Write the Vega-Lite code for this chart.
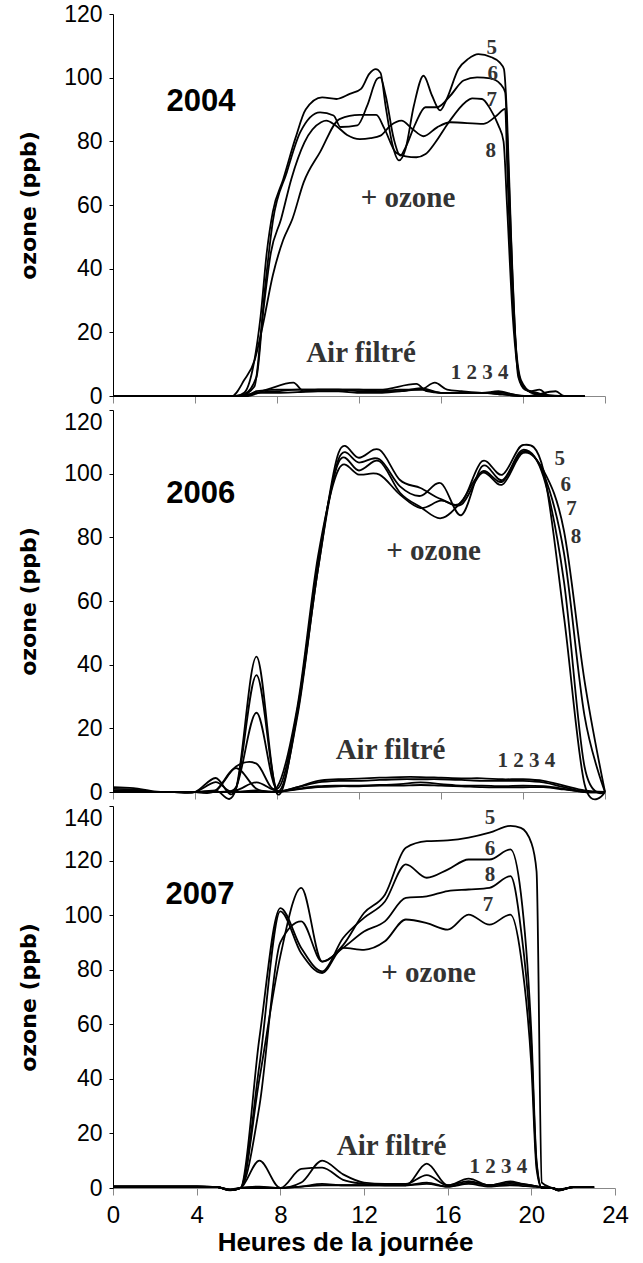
{
"$schema": "https://vega.github.io/schema/vega-lite/v6.json",
"padding": {"left": 17, "top": 3, "right": 5, "bottom": 5},
"background": "white",
"bounds": "flush",
"spacing": 14,
"config": {
  "view": {"stroke": null},
  "axis": {"grid": false, "labelFont": "Liberation Sans", "labelFontSize": 23, "labelColor": "black", "domainColor": "black", "tickColor": "black", "domainWidth": 1, "tickWidth": 1, "labelFlush": false}
},
"datasets": {
  "p2004": [
    {"s":5,"h":0,"v":0},{"s":5,"h":3,"v":0},{"s":5,"h":6,"v":0},{"s":5,"h":6.4,"v":1},{"s":5,"h":6.8,"v":8},{"s":5,"h":7.2,"v":25},{"s":5,"h":7.5,"v":45},{"s":5,"h":7.8,"v":58},{"s":5,"h":8.3,"v":68},{"s":5,"h":8.9,"v":81},{"s":5,"h":9.4,"v":90},{"s":5,"h":10.2,"v":93.8},{"s":5,"h":10.9,"v":93.3},{"s":5,"h":11.55,"v":94.9},{"s":5,"h":12.1,"v":96.5},{"s":5,"h":12.5,"v":101.2},{"s":5,"h":12.82,"v":102.7},{"s":5,"h":13.05,"v":101.5},{"s":5,"h":13.3,"v":91},{"s":5,"h":13.63,"v":79},{"s":5,"h":13.95,"v":74},{"s":5,"h":14.27,"v":77.6},{"s":5,"h":14.67,"v":91},{"s":5,"h":15.15,"v":100.6},{"s":5,"h":15.56,"v":94.4},{"s":5,"h":15.96,"v":89.7},{"s":5,"h":16.28,"v":93.3},{"s":5,"h":16.85,"v":102.7},{"s":5,"h":17.33,"v":105.9},{"s":5,"h":17.82,"v":107.4},{"s":5,"h":18.46,"v":106.4},{"s":5,"h":18.86,"v":104.8},{"s":5,"h":19.07,"v":102.7},{"s":5,"h":19.22,"v":88},{"s":5,"h":19.42,"v":50},{"s":5,"h":19.72,"v":10},{"s":5,"h":20.0,"v":3},{"s":5,"h":20.5,"v":1},{"s":5,"h":21,"v":0.5},{"s":5,"h":22,"v":0},{"s":5,"h":23,"v":0},
    {"s":6,"h":0,"v":0},{"s":6,"h":3,"v":0},{"s":6,"h":6,"v":0},{"s":6,"h":6.4,"v":0.5},{"s":6,"h":7.0,"v":6},{"s":6,"h":7.4,"v":33},{"s":6,"h":7.8,"v":55},{"s":6,"h":8.48,"v":70.3},{"s":6,"h":9.13,"v":82.8},{"s":6,"h":10.1,"v":89.1},{"s":6,"h":10.76,"v":88.1},{"s":6,"h":11.1,"v":84.5},{"s":6,"h":11.92,"v":85},{"s":6,"h":12.4,"v":91.2},{"s":6,"h":12.88,"v":99.6},{"s":6,"h":13.04,"v":100.1},{"s":6,"h":13.3,"v":94.4},{"s":6,"h":13.7,"v":80.7},{"s":6,"h":14.02,"v":75.5},{"s":6,"h":14.27,"v":78.1},{"s":6,"h":14.75,"v":85.5},{"s":6,"h":15.24,"v":90.7},{"s":6,"h":15.81,"v":90.7},{"s":6,"h":16.46,"v":94.4},{"s":6,"h":17.1,"v":99.1},{"s":6,"h":17.76,"v":100.1},{"s":6,"h":18.41,"v":99.8},{"s":6,"h":18.9,"v":98},{"s":6,"h":19.13,"v":95.4},{"s":6,"h":19.27,"v":75},{"s":6,"h":19.47,"v":40},{"s":6,"h":19.77,"v":6},{"s":6,"h":20.1,"v":2},{"s":6,"h":20.7,"v":1},{"s":6,"h":21.2,"v":0},{"s":6,"h":22,"v":0},{"s":6,"h":23,"v":0},
    {"s":7,"h":0,"v":0},{"s":7,"h":3,"v":0},{"s":7,"h":5.8,"v":0},{"s":7,"h":6.4,"v":5},{"s":7,"h":6.92,"v":11.5},{"s":7,"h":7.3,"v":22},{"s":7,"h":7.8,"v":38},{"s":7,"h":8.3,"v":49},{"s":7,"h":8.75,"v":55.6},{"s":7,"h":9.3,"v":67.1},{"s":7,"h":10.1,"v":76.6},{"s":7,"h":11.05,"v":87},{"s":7,"h":12.03,"v":88.3},{"s":7,"h":12.84,"v":88.3},{"s":7,"h":13.24,"v":84},{"s":7,"h":13.8,"v":76.5},{"s":7,"h":14.28,"v":75.3},{"s":7,"h":14.8,"v":75},{"s":7,"h":15.25,"v":76},{"s":7,"h":15.73,"v":79.7},{"s":7,"h":16.38,"v":86},{"s":7,"h":17.19,"v":92.3},{"s":7,"h":17.52,"v":93.5},{"s":7,"h":18.0,"v":93.3},{"s":7,"h":18.4,"v":90.2},{"s":7,"h":18.8,"v":85},{"s":7,"h":19.05,"v":80},{"s":7,"h":19.22,"v":60},{"s":7,"h":19.5,"v":25},{"s":7,"h":19.9,"v":4},{"s":7,"h":20.4,"v":1},{"s":7,"h":21,"v":0},{"s":7,"h":22,"v":0},{"s":7,"h":23,"v":0},
    {"s":8,"h":0,"v":0},{"s":8,"h":3,"v":0},{"s":8,"h":6.2,"v":0},{"s":8,"h":6.9,"v":3},{"s":8,"h":7.3,"v":25},{"s":8,"h":7.7,"v":45},{"s":8,"h":8.2,"v":55.6},{"s":8,"h":8.7,"v":68.2},{"s":8,"h":9.34,"v":79.7},{"s":8,"h":10.15,"v":86},{"s":8,"h":10.4,"v":86.5},{"s":8,"h":10.86,"v":85},{"s":8,"h":11.42,"v":82},{"s":8,"h":12.04,"v":80.7},{"s":8,"h":12.56,"v":81},{"s":8,"h":13.05,"v":81.8},{"s":8,"h":13.54,"v":85},{"s":8,"h":14.07,"v":86.5},{"s":8,"h":14.6,"v":83.9},{"s":8,"h":15.15,"v":81.6},{"s":8,"h":15.81,"v":84.4},{"s":8,"h":16.46,"v":86},{"s":8,"h":18.08,"v":85.5},{"s":8,"h":18.72,"v":88.1},{"s":8,"h":19.13,"v":90.2},{"s":8,"h":19.24,"v":70},{"s":8,"h":19.5,"v":30},{"s":8,"h":19.9,"v":5},{"s":8,"h":20.4,"v":1.5},{"s":8,"h":20.8,"v":2},{"s":8,"h":21.3,"v":0},{"s":8,"h":22,"v":0},{"s":8,"h":23,"v":0},
    {"s":1,"h":0,"v":0},{"s":1,"h":6,"v":0},{"s":1,"h":7,"v":1},{"s":1,"h":8,"v":1.5},{"s":1,"h":9,"v":2},{"s":1,"h":10,"v":2},{"s":1,"h":11,"v":2},{"s":1,"h":12,"v":1.5},{"s":1,"h":13,"v":1.5},{"s":1,"h":14,"v":1.5},{"s":1,"h":15,"v":2.5},{"s":1,"h":16,"v":1},{"s":1,"h":17,"v":1},{"s":1,"h":18,"v":1},{"s":1,"h":19,"v":0.5},{"s":1,"h":20,"v":0},{"s":1,"h":23,"v":0},
    {"s":2,"h":0,"v":0},{"s":2,"h":6.5,"v":0},{"s":2,"h":7.5,"v":2},{"s":2,"h":8.8,"v":4.2},{"s":2,"h":9.3,"v":1.5},{"s":2,"h":10,"v":2},{"s":2,"h":11,"v":2},{"s":2,"h":12,"v":2},{"s":2,"h":13,"v":2},{"s":2,"h":14.8,"v":3.8},{"s":2,"h":15.3,"v":1.5},{"s":2,"h":16,"v":1},{"s":2,"h":17,"v":1},{"s":2,"h":18,"v":1},{"s":2,"h":18.8,"v":1.5},{"s":2,"h":19.5,"v":0.5},{"s":2,"h":20.2,"v":0},{"s":2,"h":21.6,"v":1.5},{"s":2,"h":22,"v":0},{"s":2,"h":23,"v":0},
    {"s":3,"h":0,"v":0},{"s":3,"h":6.5,"v":0},{"s":3,"h":7,"v":1.5},{"s":3,"h":8,"v":2},{"s":3,"h":9,"v":2},{"s":3,"h":10,"v":2},{"s":3,"h":11,"v":2},{"s":3,"h":12,"v":2},{"s":3,"h":13,"v":1.5},{"s":3,"h":14,"v":2},{"s":3,"h":15,"v":2},{"s":3,"h":15.7,"v":4.2},{"s":3,"h":16.3,"v":2},{"s":3,"h":17,"v":1.5},{"s":3,"h":18,"v":1},{"s":3,"h":19,"v":1},{"s":3,"h":20,"v":0},{"s":3,"h":23,"v":0},
    {"s":4,"h":0,"v":0},{"s":4,"h":6.5,"v":0},{"s":4,"h":7,"v":1},{"s":4,"h":8,"v":1},{"s":4,"h":9,"v":1.2},{"s":4,"h":10,"v":1.5},{"s":4,"h":11,"v":1.5},{"s":4,"h":12,"v":1},{"s":4,"h":13,"v":1},{"s":4,"h":14,"v":1.5},{"s":4,"h":15,"v":2},{"s":4,"h":16,"v":1},{"s":4,"h":17,"v":1},{"s":4,"h":18,"v":1},{"s":4,"h":19,"v":0.5},{"s":4,"h":20,"v":0},{"s":4,"h":23,"v":0}
  ],
  "p2006": [
    {"h":0,"s1":0.3,"s2":0.2,"s3":0,"s4":0,"s5":1.5,"s6":1,"s7":0.5,"s8":0.3},
    {"h":1,"s1":0.3,"s2":0.2,"s3":0,"s4":0,"s5":1.2,"s6":0.8,"s7":0.5,"s8":0.2},
    {"h":2,"s1":0,"s2":0,"s3":0,"s4":0,"s5":0.2,"s6":0,"s7":0,"s8":0},
    {"h":3,"s1":0,"s2":0,"s3":0,"s4":0,"s5":0,"s6":0,"s7":0,"s8":0},
    {"h":4,"s1":0,"s2":0,"s3":0,"s4":0,"s5":0,"s6":0,"s7":0,"s8":0},
    {"h":5,"s1":0.5,"s2":0,"s3":0,"s4":0,"s5":0.5,"s6":4.4,"s7":3.1,"s8":0.3},
    {"h":6,"s1":7.5,"s2":0.5,"s3":0,"s4":0,"s5":1,"s6":1,"s7":1.5,"s8":8},
    {"h":7,"s1":1,"s2":3,"s3":0.5,"s4":0,"s5":42.5,"s6":36.7,"s7":24.9,"s8":8.9},
    {"h":8,"s1":0,"s2":0.3,"s3":0,"s4":0,"s5":-0.5,"s6":0.5,"s7":1,"s8":1.5},
    {"h":9,"s1":1.5,"s2":1.5,"s3":1,"s4":0.8,"s5":25,"s6":24,"s7":26,"s8":27},
    {"h":10,"s1":3.5,"s2":3,"s3":1.8,"s4":1.5,"s5":70,"s6":70,"s7":72,"s8":74},
    {"h":11,"s1":4,"s2":3.5,"s3":2,"s4":1.8,"s5":106.5,"s6":104.5,"s7":103.5,"s8":101.3},
    {"h":12,"s1":4.2,"s2":3.5,"s3":2,"s4":1.8,"s5":105,"s6":103.5,"s7":101,"s8":99.7},
    {"h":13,"s1":4.5,"s2":3.8,"s3":2.2,"s4":2,"s5":107.5,"s6":104.5,"s7":103.9,"s8":99.7},
    {"h":14,"s1":4.7,"s2":4,"s3":2.5,"s4":2,"s5":98,"s6":96,"s7":94,"s8":93.4},
    {"h":15,"s1":4.7,"s2":4,"s3":3,"s4":2.2,"s5":95.5,"s6":93,"s7":89.5,"s8":89.2},
    {"h":16,"s1":4.5,"s2":4,"s3":2.5,"s4":2,"s5":92,"s6":97,"s7":86,"s8":91.5},
    {"h":17,"s1":4.3,"s2":3.8,"s3":2,"s4":1.8,"s5":91,"s6":87,"s7":91.3,"s8":90.3},
    {"h":18,"s1":4.3,"s2":3.5,"s3":2,"s4":1.5,"s5":103.9,"s6":102.3,"s7":100.7,"s8":100.2},
    {"h":19,"s1":4,"s2":3.5,"s3":1.8,"s4":1.5,"s5":99.7,"s6":98,"s7":97.5,"s8":96.6},
    {"h":20,"s1":4,"s2":3.5,"s3":2,"s4":1.5,"s5":109,"s6":107.5,"s7":107,"s8":106.5},
    {"h":21,"s1":3.5,"s2":3,"s3":1.8,"s4":1.5,"s5":101,"s6":99,"s7":100,"s8":101},
    {"h":22,"s1":2,"s2":1.5,"s3":1,"s4":0.8,"s5":55,"s6":66,"s7":75,"s8":82},
    {"h":23,"s1":0.5,"s2":0,"s3":0,"s4":0,"s5":2.5,"s6":8,"s7":24,"s8":35},
    {"h":24,"s1":0,"s2":0,"s3":0,"s4":0,"s5":0,"s6":0,"s7":0,"s8":0}
  ],
  "p2007": [
    {"h":0,"s1":0.5,"s2":0.4,"s3":0.6,"s4":0.3,"s5":0.5,"s6":0.6,"s7":0.4,"s8":0.5},
    {"h":1,"s1":0.5,"s2":0.4,"s3":0.6,"s4":0.3,"s5":0.5,"s6":0.6,"s7":0.4,"s8":0.5},
    {"h":2,"s1":0.5,"s2":0.4,"s3":0.6,"s4":0.3,"s5":0.5,"s6":0.6,"s7":0.4,"s8":0.5},
    {"h":3,"s1":0.5,"s2":0.4,"s3":0.6,"s4":0.3,"s5":0.5,"s6":0.6,"s7":0.4,"s8":0.5},
    {"h":4,"s1":0.5,"s2":0.4,"s3":0.6,"s4":0.3,"s5":0.5,"s6":0.6,"s7":0.4,"s8":0.5},
    {"h":5,"s1":0.3,"s2":0.3,"s3":0.3,"s4":0.3,"s5":0.3,"s6":0.3,"s7":0.3,"s8":0.3},
    {"h":5.6,"s1":-0.8,"s2":-0.8,"s3":-0.6,"s4":-0.5,"s5":-0.8,"s6":-0.9,"s7":-0.7,"s8":-0.8},
    {"h":6.1,"s1":0,"s2":0,"s3":0,"s4":0,"s5":0,"s6":0,"s7":0,"s8":0},
    {"h":7,"s1":10,"s2":0.5,"s3":0.3,"s4":0,"s5":40,"s6":55,"s7":45,"s8":30},
    {"h":8,"s1":0,"s2":0,"s3":0,"s4":0,"s5":85,"s6":102.6,"s7":101.4,"s8":90},
    {"h":9,"s1":0.5,"s2":7,"s3":2,"s4":0.5,"s5":110,"s6":88,"s7":86,"s8":97.7},
    {"h":10,"s1":1.5,"s2":7.5,"s3":10,"s4":1,"s5":83,"s6":79.4,"s7":78.8,"s8":83},
    {"h":11,"s1":1,"s2":3,"s3":5,"s4":1,"s5":89,"s6":91.6,"s7":88,"s8":88},
    {"h":12,"s1":1,"s2":1.5,"s3":2,"s4":1,"s5":100.8,"s6":99,"s7":87.3,"s8":94},
    {"h":13,"s1":1,"s2":1,"s3":1.5,"s4":1,"s5":107.5,"s6":105,"s7":90.4,"s8":97.7},
    {"h":14,"s1":1,"s2":1,"s3":1.5,"s4":1,"s5":124.7,"s6":118.6,"s7":98.4,"s8":106.3},
    {"h":15,"s1":2,"s2":8.9,"s3":4.7,"s4":1.5,"s5":127.1,"s6":113.7,"s7":97.1,"s8":106.9},
    {"h":16,"s1":0.5,"s2":1,"s3":1,"s4":0.5,"s5":127.4,"s6":116.7,"s7":94.7,"s8":108.8},
    {"h":17,"s1":2,"s2":3.4,"s3":2.5,"s4":1.5,"s5":128.4,"s6":120.4,"s7":100.2,"s8":109.4},
    {"h":18,"s1":1,"s2":1,"s3":1,"s4":0.5,"s5":130.2,"s6":120.4,"s7":96.5,"s8":110},
    {"h":19,"s1":1.5,"s2":2.4,"s3":2,"s4":1,"s5":132.7,"s6":124.1,"s7":100.2,"s8":114.3},
    {"h":19.5,"s1":1.2,"s2":1.6,"s3":1.5,"s4":0.8,"s5":132,"s6":108,"s7":85,"s8":95},
    {"h":20,"s1":1,"s2":1,"s3":1,"s4":0.5,"s5":126.5,"s6":57,"s7":45,"s8":52},
    {"h":20.25,"s1":0.6,"s2":0.6,"s3":0.6,"s4":0.4,"s5":116,"s6":10,"s7":7,"s8":9},
    {"h":20.5,"s1":0.3,"s2":0.3,"s3":0.3,"s4":0.3,"s5":2,"s6":0,"s7":0,"s8":0},
    {"h":21,"s1":0,"s2":0,"s3":0,"s4":0,"s5":0,"s6":0,"s7":0,"s8":0},
    {"h":21.3,"s1":-0.8,"s2":-0.8,"s3":-0.5,"s4":-0.5,"s5":-1,"s6":-0.8,"s7":-0.8,"s8":-0.8},
    {"h":22,"s1":0.3,"s2":0.3,"s3":0.3,"s4":0.3,"s5":0.3,"s6":0.3,"s7":0.3,"s8":0.3},
    {"h":23,"s1":0.3,"s2":0.3,"s3":0.3,"s4":0.3,"s5":0.3,"s6":0.3,"s7":0.3,"s8":0.3}
  ],
  "t2004": [
    {"k":"year","t":"2004","h":4.29,"v":89.5},
    {"k":"lab","t":"+ ozone","h":14.39,"v":59.4},
    {"k":"lab","t":"Air filtré","h":12.1,"v":10.7},
    {"k":"num","t":"1 2 3 4","h":17.88,"v":5.3},
    {"k":"num","t":"5","h":18.48,"v":107.4},
    {"k":"num","t":"6","h":18.53,"v":99.3},
    {"k":"num","t":"7","h":18.48,"v":91.1},
    {"k":"num","t":"8","h":18.43,"v":75.1}
  ],
  "t2006": [
    {"k":"year","t":"2006","h":4.28,"v":90.8},
    {"k":"lab","t":"+ ozone","h":15.64,"v":73},
    {"k":"lab","t":"Air filtré","h":13.54,"v":10.3},
    {"k":"num","t":"1 2 3 4","h":20.17,"v":7.8},
    {"k":"num","t":"5","h":21.79,"v":102.7},
    {"k":"num","t":"6","h":22.09,"v":94.6},
    {"k":"num","t":"7","h":22.36,"v":87},
    {"k":"num","t":"8","h":22.58,"v":78.3}
  ],
  "t2007": [
    {"k":"year","t":"2007","h":4.16,"v":104.1},
    {"k":"lab","t":"+ ozone","h":15.09,"v":75.5},
    {"k":"lab","t":"Air filtré","h":13.32,"v":12.0},
    {"k":"num","t":"1 2 3 4","h":18.42,"v":5.6},
    {"k":"num","t":"5","h":18.02,"v":133.3},
    {"k":"num","t":"6","h":18.02,"v":122.2},
    {"k":"num","t":"8","h":18.02,"v":112.4},
    {"k":"num","t":"7","h":17.93,"v":101.4}
  ]
},
"vconcat": [
  {
    "width": 492, "height": 382,
    "layer": [
      {"data": {"name": "p2004"},
       "mark": {"type": "line", "interpolate": "monotone", "color": "black", "strokeWidth": 1.8},
       "encoding": {
         "x": {"field": "h", "type": "quantitative", "scale": {"domain": [0, 24], "nice": false, "zero": false},
               "axis": {"values": [0,4,8,12,16,20,24], "labels": false, "title": null, "tickSize": 7, "domainColor": "#888888", "tickColor": "#888888"}},
         "y": {"field": "v", "type": "quantitative", "scale": {"domain": [0, 120], "nice": false, "zero": false},
               "axis": {"values": [0,20,40,60,80,100,120], "tickSize": 4, "labelPadding": 7, "title": "ozone (ppb)", "titleFont": "DejaVu Sans", "titleFontSize": 22, "titleFontWeight": "bold", "titleColor": "black", "titleAngle": -90, "titleX": -73, "titleY": 191, "titleBaseline": "bottom", "titleAlign": "center"}},
         "detail": {"field": "s", "type": "nominal"}
       }},
      {"data": {"name": "t2004"}, "transform": [{"filter": "datum.k == 'year'"}],
       "mark": {"type": "text", "font": "Liberation Sans", "fontWeight": "bold", "fontSize": 31, "align": "center", "baseline": "alphabetic", "color": "black"},
       "encoding": {"x": {"field": "h", "type": "quantitative"}, "y": {"field": "v", "type": "quantitative"}, "text": {"field": "t"}}},
      {"data": {"name": "t2004"}, "transform": [{"filter": "datum.k == 'lab'"}],
       "mark": {"type": "text", "font": "Liberation Serif", "fontWeight": "bold", "fontSize": 29, "align": "center", "baseline": "alphabetic", "color": "#333333"},
       "encoding": {"x": {"field": "h", "type": "quantitative"}, "y": {"field": "v", "type": "quantitative"}, "text": {"field": "t"}}},
      {"data": {"name": "t2004"}, "transform": [{"filter": "datum.k == 'num'"}],
       "mark": {"type": "text", "font": "Liberation Serif", "fontWeight": "bold", "fontSize": 21, "align": "center", "baseline": "alphabetic", "color": "#333333"},
       "encoding": {"x": {"field": "h", "type": "quantitative"}, "y": {"field": "v", "type": "quantitative"}, "text": {"field": "t"}}}
    ]
  },
  {
    "width": 492, "height": 382,
    "layer": [
      {"data": {"name": "p2006"},
       "transform": [{"fold": ["s1","s2","s3","s4","s5","s6","s7","s8"], "as": ["s", "v"]}],
       "mark": {"type": "line", "interpolate": "cardinal", "color": "black", "strokeWidth": 1.8},
       "encoding": {
         "x": {"field": "h", "type": "quantitative", "scale": {"domain": [0, 24], "nice": false, "zero": false},
               "axis": {"values": [0,4,8,12,16,20,24], "labels": false, "title": null, "tickSize": 7, "domainColor": "#888888", "tickColor": "#888888"}},
         "y": {"field": "v", "type": "quantitative", "scale": {"domain": [0, 120], "nice": false, "zero": false},
               "axis": {"values": [0,20,40,60,80,100,120], "tickSize": 4, "labelPadding": 7, "labelOffset": {"condition": {"test": "datum.value == 120", "value": 12}, "value": 0}, "title": "ozone (ppb)", "titleFont": "DejaVu Sans", "titleFontSize": 22, "titleFontWeight": "bold", "titleColor": "black", "titleAngle": -90, "titleX": -73, "titleY": 191, "titleBaseline": "bottom", "titleAlign": "center"}},
         "detail": {"field": "s", "type": "nominal"}
       }},
      {"data": {"name": "t2006"}, "transform": [{"filter": "datum.k == 'year'"}],
       "mark": {"type": "text", "font": "Liberation Sans", "fontWeight": "bold", "fontSize": 31, "align": "center", "baseline": "alphabetic", "color": "black"},
       "encoding": {"x": {"field": "h", "type": "quantitative"}, "y": {"field": "v", "type": "quantitative"}, "text": {"field": "t"}}},
      {"data": {"name": "t2006"}, "transform": [{"filter": "datum.k == 'lab'"}],
       "mark": {"type": "text", "font": "Liberation Serif", "fontWeight": "bold", "fontSize": 29, "align": "center", "baseline": "alphabetic", "color": "#333333"},
       "encoding": {"x": {"field": "h", "type": "quantitative"}, "y": {"field": "v", "type": "quantitative"}, "text": {"field": "t"}}},
      {"data": {"name": "t2006"}, "transform": [{"filter": "datum.k == 'num'"}],
       "mark": {"type": "text", "font": "Liberation Serif", "fontWeight": "bold", "fontSize": 21, "align": "center", "baseline": "alphabetic", "color": "#333333"},
       "encoding": {"x": {"field": "h", "type": "quantitative"}, "y": {"field": "v", "type": "quantitative"}, "text": {"field": "t"}}}
    ]
  },
  {
    "width": 502, "height": 382,
    "layer": [
      {"data": {"name": "p2007"},
       "transform": [{"fold": ["s1","s2","s3","s4","s5","s6","s7","s8"], "as": ["s", "v"]}],
       "mark": {"type": "line", "interpolate": "monotone", "color": "black", "strokeWidth": 1.8},
       "encoding": {
         "x": {"field": "h", "type": "quantitative", "scale": {"domain": [0, 24], "nice": false, "zero": false},
               "axis": {"values": [0,4,8,12,16,20,24], "labelFontSize": 24, "labelPadding": 8, "tickSize": 7, "domainColor": "#888888", "tickColor": "#888888", "title": "Heures de la journée", "titleFont": "Liberation Sans", "titleFontSize": 26, "titleFontWeight": "bold", "titleColor": "black", "titleX": 232, "titleY": 62, "titleBaseline": "alphabetic", "titleAlign": "center"}},
         "y": {"field": "v", "type": "quantitative", "scale": {"domain": [0, 140], "nice": false, "zero": false},
               "axis": {"values": [0,20,40,60,80,100,120,140], "tickSize": 4, "labelPadding": 7, "labelOffset": {"condition": {"test": "datum.value == 140", "value": 12}, "value": 0}, "title": "ozone (ppb)", "titleFont": "DejaVu Sans", "titleFontSize": 22, "titleFontWeight": "bold", "titleColor": "black", "titleAngle": -90, "titleX": -73, "titleY": 191, "titleBaseline": "bottom", "titleAlign": "center"}},
         "detail": {"field": "s", "type": "nominal"}
       }},
      {"data": {"name": "t2007"}, "transform": [{"filter": "datum.k == 'year'"}],
       "mark": {"type": "text", "font": "Liberation Sans", "fontWeight": "bold", "fontSize": 31, "align": "center", "baseline": "alphabetic", "color": "black"},
       "encoding": {"x": {"field": "h", "type": "quantitative"}, "y": {"field": "v", "type": "quantitative"}, "text": {"field": "t"}}},
      {"data": {"name": "t2007"}, "transform": [{"filter": "datum.k == 'lab'"}],
       "mark": {"type": "text", "font": "Liberation Serif", "fontWeight": "bold", "fontSize": 29, "align": "center", "baseline": "alphabetic", "color": "#333333"},
       "encoding": {"x": {"field": "h", "type": "quantitative"}, "y": {"field": "v", "type": "quantitative"}, "text": {"field": "t"}}},
      {"data": {"name": "t2007"}, "transform": [{"filter": "datum.k == 'num'"}],
       "mark": {"type": "text", "font": "Liberation Serif", "fontWeight": "bold", "fontSize": 21, "align": "center", "baseline": "alphabetic", "color": "#333333"},
       "encoding": {"x": {"field": "h", "type": "quantitative"}, "y": {"field": "v", "type": "quantitative"}, "text": {"field": "t"}}}
    ]
  }
]
}
